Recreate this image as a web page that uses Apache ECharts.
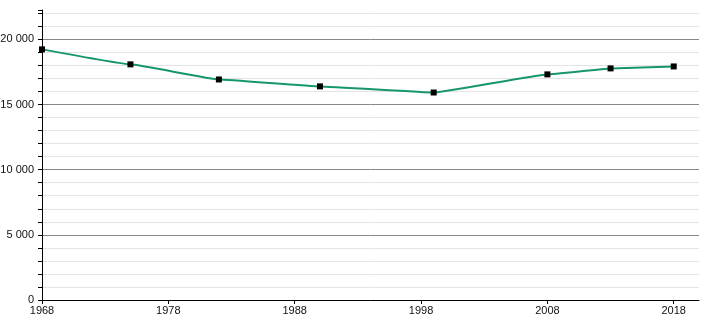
<!DOCTYPE html>
<html><head><meta charset="utf-8">
<script src="https://cdn.jsdelivr.net/npm/echarts@6/dist/echarts.min.js"></script>
<style>html,body{margin:0;padding:0;background:#fff}#c{width:710px;height:320px}</style>
</head><body><div id="c"></div>
<script>
const years = [1968, 1975, 1982, 1990, 1999, 2008, 2013, 2018];
const population = [19230, 18080, 16920, 16390, 15920, 17310, 17770, 17920];
const xTickLabels = [1968, 1978, 1988, 1998, 2008, 2018];
const yTickLabels = [0, 5000, 10000, 15000, 20000];

function fmt(v){ return String(v).replace(/\B(?=(\d{3})+(?!\d))/g, ' '); }

const chart = echarts.init(document.getElementById('c'), null, {renderer:'canvas'});
chart.setOption({
  animation: false,
  grid: {left: 42, right: 11, top: 10, bottom: 20, containLabel: false, outerBoundsMode: 'none'},
  xAxis: {
    type: 'value', min: 1968, max: 2020,
    axisLine: {show: true, lineStyle: {color: '#000', width: 1}},
    axisTick: {show: true, length: 4, lineStyle: {color: '#000'}, customValues: xTickLabels},
    axisLabel: {customValues: xTickLabels, color: '#111', fontSize: 11, fontFamily: 'Liberation Sans, Arial, sans-serif', margin: 5, formatter: v => String(v)},
    splitLine: {show: false}
  },
  yAxis: {
    type: 'value', min: 0, max: 22250, interval: 1000,
    axisLine: {show: true, lineStyle: {color: '#000', width: 1}},
    axisTick: {show: true, length: 4, lineStyle: {color: '#000'}},
    axisLabel: {color: '#111', fontSize: 11, fontFamily: 'Liberation Sans, Arial, sans-serif', margin: 8,
      formatter: v => yTickLabels.indexOf(v) >= 0 ? fmt(v) : ''},
    splitLine: {show: true, showMaxLine: false, lineStyle: {color: ['#888', '#e4e4e4', '#e4e4e4', '#e4e4e4', '#e4e4e4'], width: 1}}
  },
  series: [{
    type: 'line',
    data: years.map((y, i) => [y, population[i]]),
    smooth: 0.08, smoothMonotone: 'x',
    lineStyle: {color: '#16966e', width: 2},
    itemStyle: {color: '#000'},
    symbol: 'rect', symbolSize: 6, showSymbol: true,
    z: 3
  }]
});
</script></body></html>
